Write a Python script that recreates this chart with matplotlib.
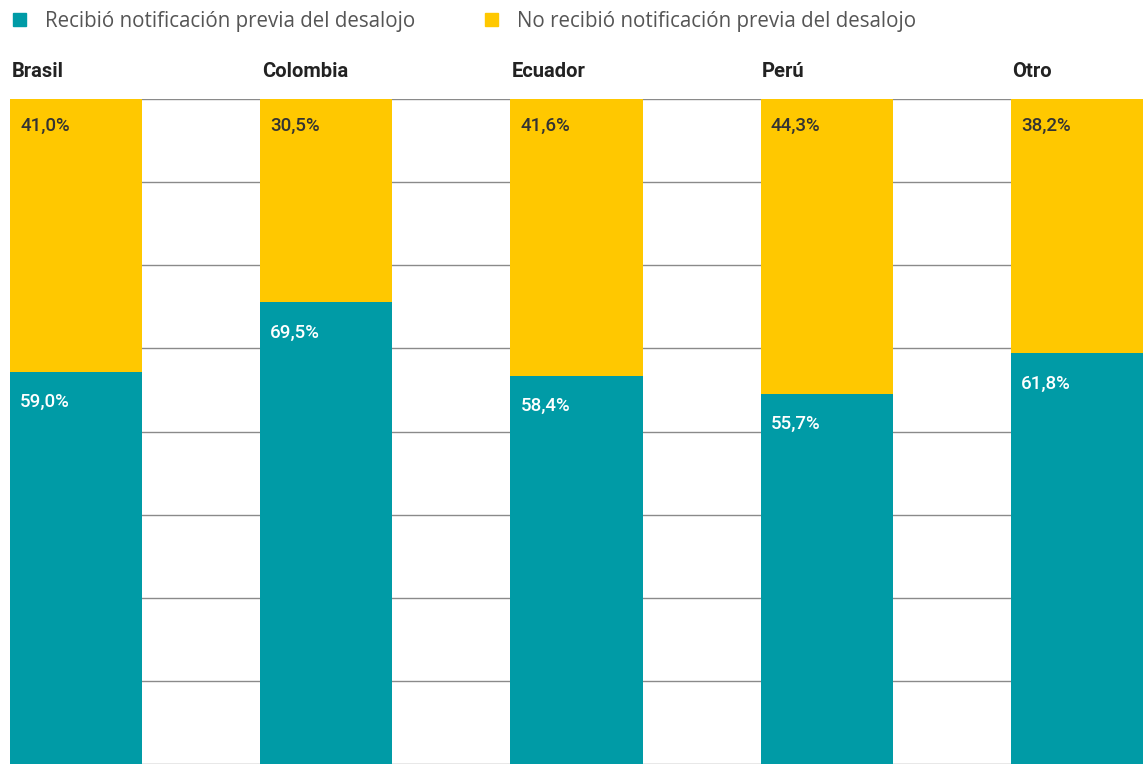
import numpy as np
import matplotlib.pyplot as plt
from matplotlib.patches import Patch

# Datos
paises = ['Brasil', 'Colombia', 'Ecuador', 'Perú', 'Otro']
recibio = [59.0, 69.5, 58.4, 55.7, 61.8]
no_recibio = [41.0, 30.5, 41.6, 44.3, 38.2]
series = ['Recibió notificación previa del desalojo',
          'No recibió notificación previa del desalojo']

TEAL = '#009ba6'
AMARILLO = '#ffc800'
TEXTO = '#333333'

fig = plt.figure(figsize=(11.45, 7.64), dpi=100)
ax = fig.add_axes([10 / 1145, 0, 1133 / 1145, 1 - 99 / 764])

x = np.arange(len(paises))
ancho = 132 / 250
ax.bar(x, recibio, width=ancho, align='edge', color=TEAL, zorder=2)
ax.bar(x, no_recibio, width=ancho, align='edge', bottom=recibio,
       color=AMARILLO, zorder=2)

for i in range(len(paises)):
    ax.text(x[i] + 0.04, 100 - 4, f'{no_recibio[i]:.1f}%'.replace('.', ','),
            ha='left', va='center', fontsize=13.5, color=TEXTO,
            family='Roboto', fontweight='medium', zorder=3)
    ax.text(x[i] + 0.04, recibio[i] - 4.6, f'{recibio[i]:.1f}%'.replace('.', ','),
            ha='left', va='center', fontsize=13.5, color='white',
            family='Roboto', fontweight='medium', zorder=3)
    ax.text(x[i] + 0.006, 104.1, paises[i], ha='left', va='center',
            fontsize=14.5, color='#222222', family='Roboto',
            fontweight='bold', clip_on=False)

ax.set_xlim(0, 4 + ancho)
ax.set_ylim(0, 100)
ax.set_yticks(np.arange(0, 101, 12.5))
ax.grid(axis='y', color='#8a8a8a', linewidth=1, zorder=1)
ax.axhline(100, color='#444444', linewidth=1.2, zorder=1)
ax.set_xticks([])
ax.tick_params(left=False, labelleft=False)
for s in ax.spines.values():
    s.set_visible(False)

handles = [Patch(color=TEAL), Patch(color=AMARILLO)]
fig.legend(handles, series, loc='upper left', bbox_to_anchor=(-0.0045, 1.01),
           ncol=2, frameon=False, handlelength=0.6, handleheight=0.6,
           handletextpad=0.95, columnspacing=3.4,
           prop={'family': 'Open Sans', 'size': 14.8}, labelcolor='#555555')

fig.savefig('out.png', dpi=100)
